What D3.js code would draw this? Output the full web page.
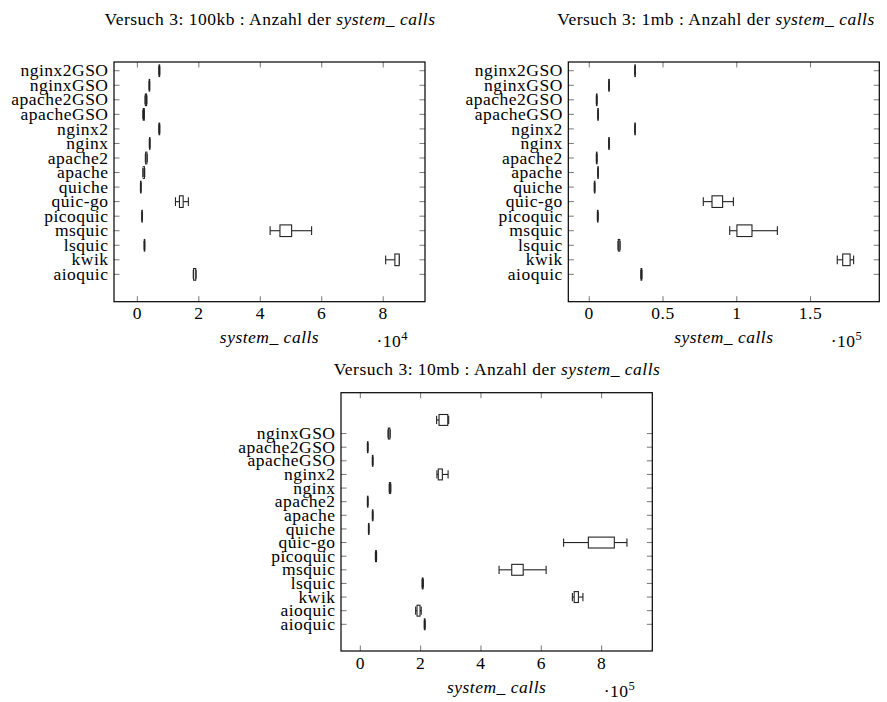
<!DOCTYPE html>
<html><head><meta charset="utf-8">
<script src="https://cdn.jsdelivr.net/npm/d3@7"></script>
<style>body{margin:0;background:#fff}svg{display:block}</style>
</head><body><svg id="c" width="887" height="702" font-family="'Liberation Serif', serif"></svg>
<script>
// ---- data (bottom-up order, positions 1..n) ----
const catsTop = ["aioquic","kwik","lsquic","msquic","picoquic","quic-go","quiche","apache","apache2","nginx","nginx2","apacheGSO","apache2GSO","nginxGSO","nginx2GSO"];
const catsBottom = ["aioquic","aioquic","kwik","lsquic","msquic","picoquic","quic-go","quiche","apache","apache2","nginx","nginx2","apacheGSO","apache2GSO","nginxGSO"];

// [lower whisker, lower quartile, upper quartile, upper whisker]
const box100kb = [ // x 10^4
  [1.82,1.83,1.90,1.91],[8.08,8.38,8.52,8.52],[0.22,0.225,0.235,0.24],[4.32,4.64,5.02,5.67],
  [0.14,0.145,0.16,0.165],[1.24,1.37,1.49,1.66],[0.10,0.105,0.115,0.12],[0.18,0.19,0.23,0.24],
  [0.26,0.27,0.31,0.32],[0.39,0.395,0.405,0.41],[0.70,0.705,0.725,0.73],[0.18,0.19,0.225,0.23],
  [0.25,0.26,0.30,0.31],[0.38,0.385,0.395,0.40],[0.70,0.705,0.725,0.73]
];
const box1mb = [ // x 10^5
  [0.350,0.351,0.356,0.357],[1.681,1.718,1.768,1.792],[0.195,0.197,0.207,0.209],[0.952,1.001,1.103,1.275],
  [0.055,0.056,0.059,0.060],[0.773,0.832,0.904,0.977],[0.034,0.035,0.037,0.038],[0.057,0.058,0.061,0.062],
  [0.048,0.049,0.052,0.053],[0.131,0.132,0.136,0.137],[0.308,0.309,0.311,0.312],[0.057,0.058,0.061,0.062],
  [0.048,0.049,0.052,0.053],[0.131,0.132,0.136,0.137],[0.308,0.309,0.311,0.312]
];
const box10mb = [ // x 10^5
  [2.12,2.125,2.145,2.15],[1.835,1.88,1.98,2.02],[7.03,7.09,7.23,7.38],[2.05,2.055,2.08,2.09],
  [4.60,5.02,5.40,6.16],[0.50,0.505,0.535,0.54],[6.74,7.56,8.42,8.84],[0.27,0.272,0.284,0.286],
  [0.40,0.402,0.418,0.42],[0.235,0.238,0.252,0.255],[0.96,0.965,1.005,1.01],[2.54,2.585,2.72,2.91],
  [0.40,0.402,0.418,0.42],[0.235,0.238,0.252,0.255],[0.92,0.93,0.98,0.99],[2.53,2.61,2.90,2.93]
];
const ticks100kb = [0,2,4,6,8];
const ticks1mb = [0,0.5,1,1.5];
const ticks10mb = [0,2,4,6,8];
const titles = ["Versuch 3: 100kb : Anzahl der ","Versuch 3: 1mb : Anzahl der ","Versuch 3: 10mb : Anzahl der "];
const titleItalic = "system_ calls";
const xLabel = "system_ calls";
const exps = ["4","5","5"];

const svg = d3.select("#c");
const FS = 17.5, LS = 0.5;

function txt(g){ return g.append("text").attr("font-family","'Liberation Serif', serif").attr("font-size",FS).attr("letter-spacing",LS).attr("fill","#000"); }

function panel(cfg){
  const g = svg.append("g");
  const x = d3.scaleLinear().domain(cfg.xd).range([cfg.l, cfg.r]);
  const y = d3.scaleLinear().domain(cfg.yd).range([cfg.b, cfg.t]);
  const band = Math.abs(y(1)-y(0));
  const tl = 5.5;
  cfg.xt.forEach(v=>{
    g.append("line").attr("x1",x(v)).attr("x2",x(v)).attr("y1",cfg.b).attr("y2",cfg.b-tl).attr("stroke","#777").attr("stroke-width",1);
    g.append("line").attr("x1",x(v)).attr("x2",x(v)).attr("y1",cfg.t).attr("y2",cfg.t+tl).attr("stroke","#777").attr("stroke-width",1);
    txt(g).attr("x",x(v)).attr("y",cfg.tly).attr("text-anchor","middle").text(d3.format("")(v));
  });
  cfg.cats.forEach((c,i)=>{
    const yy = y(i+1);
    g.append("line").attr("x1",cfg.l).attr("x2",cfg.l+tl).attr("y1",yy).attr("y2",yy).attr("stroke","#777").attr("stroke-width",1);
    g.append("line").attr("x1",cfg.r).attr("x2",cfg.r-tl).attr("y1",yy).attr("y2",yy).attr("stroke","#777").attr("stroke-width",1);
    txt(g).attr("x",cfg.l-5.5).attr("y",yy+5.6).attr("text-anchor","end").text(c);
  });
  const bh = band*0.8, ch = band*0.6;
  cfg.data.forEach((d,i)=>{
    const yy = y(i+1);
    const s = g.append("g").attr("stroke","#222").attr("stroke-width",1.1).attr("fill","none");
    s.append("line").attr("x1",x(d[0])).attr("x2",x(d[1])).attr("y1",yy).attr("y2",yy);
    s.append("line").attr("x1",x(d[2])).attr("x2",x(d[3])).attr("y1",yy).attr("y2",yy);
    s.append("line").attr("x1",x(d[0])).attr("x2",x(d[0])).attr("y1",yy-ch/2).attr("y2",yy+ch/2);
    s.append("line").attr("x1",x(d[3])).attr("x2",x(d[3])).attr("y1",yy-ch/2).attr("y2",yy+ch/2);
    s.append("rect").attr("x",x(d[1])).attr("width",Math.max(0.5,x(d[2])-x(d[1]))).attr("y",yy-bh/2).attr("height",bh).attr("fill","#fff");
  });
  g.append("rect").attr("x",cfg.l).attr("y",cfg.t).attr("width",cfg.r-cfg.l).attr("height",cfg.b-cfg.t)
    .attr("fill","none").attr("stroke","#000").attr("stroke-width",1.2);
  const tt = txt(g).attr("x",cfg.tx).attr("y",cfg.ty).attr("text-anchor","middle");
  tt.append("tspan").text(cfg.title);
  tt.append("tspan").attr("font-style","italic").text(titleItalic);
  txt(g).attr("x",(cfg.l+cfg.r)/2).attr("y",cfg.aly).attr("text-anchor","middle").attr("font-style","italic").text(xLabel);
  const e = txt(g).attr("x",cfg.r-17).attr("y",cfg.aly+4).attr("text-anchor","end");
  e.append("tspan").text("\u00b710");
  e.append("tspan").attr("font-size",12.5).attr("dy",-7).text(cfg.exp);
}

panel({l:114,r:425,t:62,b:301.7,xd:[-0.76,9.36],yd:[-0.88,15.6],xt:ticks100kb,cats:catsTop,data:box100kb,
  tly:319,title:titles[0],tx:270,ty:25,aly:342.5,exp:exps[0]});
panel({l:568.3,r:879.3,t:62,b:301.7,xd:[-0.142,1.966],yd:[-0.88,15.6],xt:ticks1mb,cats:catsTop,data:box1mb,
  tly:319,title:titles[1],tx:716,ty:25,aly:342.5,exp:exps[1]});
panel({l:341,r:652.3,t:392.7,b:651,xd:[-0.64,9.68],yd:[-0.96,18.0],xt:ticks10mb,cats:catsBottom,data:box10mb,
  tly:669,title:titles[2],tx:497,ty:375,aly:692.7,exp:exps[2]});
</script></body></html>
